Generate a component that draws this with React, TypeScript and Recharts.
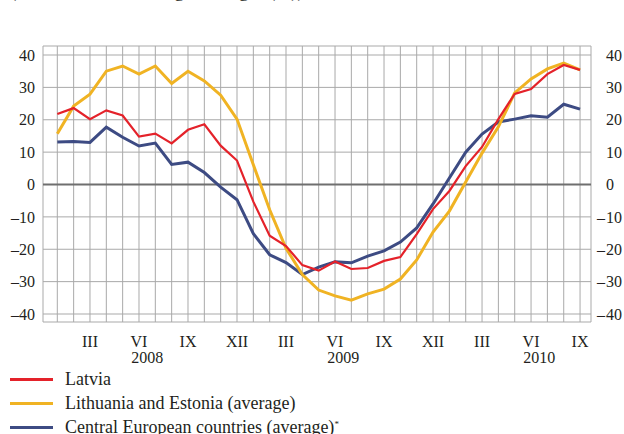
import { LineChart, Line, XAxis, YAxis, CartesianGrid, ReferenceLine } from "recharts";

const periods = [
  "I 2008", "II 2008", "III 2008", "IV 2008", "V 2008", "VI 2008",
  "VII 2008", "VIII 2008", "IX 2008", "X 2008", "XI 2008", "XII 2008",
  "I 2009", "II 2009", "III 2009", "IV 2009", "V 2009", "VI 2009",
  "VII 2009", "VIII 2009", "IX 2009", "X 2009", "XI 2009", "XII 2009",
  "I 2010", "II 2010", "III 2010", "IV 2010", "V 2010", "VI 2010",
  "VII 2010", "VIII 2010", "IX 2010",
];
const shownMonths = ["III", "VI", "IX", "XII"];
const years = ["2008", "2009", "2010"];
const yTicks = [-40, -30, -20, -10, 0, 10, 20, 30, 40];

const latvia = [
  21.8, 23.6, 20.2, 22.9, 21.3, 14.8, 15.7, 12.7, 16.9, 18.6, 12.0, 7.4,
  -5.3, -15.8, -19.0, -24.9, -26.6, -23.8, -26.1, -25.8, -23.6, -22.4, -15.3, -7.6,
  -2.0, 5.7, 11.6, 20.2, 28.0, 29.5, 34.1, 36.9, 35.4,
];
const lithEst = [
  15.7, 24.2, 27.9, 35.0, 36.6, 34.1, 36.6, 31.2, 35.0, 32.0, 27.6, 20.2,
  6.1, -7.8, -19.7, -27.8, -32.6, -34.4, -35.7, -33.8, -32.3, -29.2, -23.3, -14.7,
  -8.2, 0.8, 9.7, 17.8, 28.3, 32.6, 35.7, 37.5, 35.4,
];
const central = [
  13.1, 13.3, 13.0, 17.7, 14.6, 11.9, 12.8, 6.2, 6.9, 3.7, -0.8, -4.7,
  -15.2, -21.7, -24.1, -27.8, -25.5, -23.9, -24.2, -22.1, -20.5, -17.8, -13.4, -6.0,
  2.0, 10.0, 15.6, 19.3, 20.2, 21.2, 20.8, 24.8, 23.3,
];

const series = [
  { key: "latvia", name: "Latvia", color: "#e4222a", width: 2.2, axis: "left" },
  { key: "lithEst", name: "Lithuania and Estonia (average)", color: "#f0b323", width: 3, axis: "left" },
  { key: "central", name: "Central European countries (average)", color: "#3d4b83", width: 3, axis: "right" },
];

const data = periods.map((p, i) => ({
  idx: i,
  period: p,
  latvia: latvia[i],
  lithEst: lithEst[i],
  central: central[i],
}));

const monthTicks = periods.map((_, i) => i);
// year labels sit between June and July
const yearTicks = years.map((y) => periods.indexOf("VI " + y) + 0.5);

const FONT = "'Liberation Serif', 'Times New Roman', Times, serif";
const TEXT = "#231f20";
const Y_DOMAIN: [number, number] = [-42.47, 42.78];
const tickStyle = { fontSize: 16, fill: TEXT, fontFamily: FONT, style: { fontFamily: FONT } };

const fmtY = (v: number) => (v < 0 ? "\u2013" + Math.abs(v) : String(v));

function RightTick(props: any) {
  const { x, y, payload } = props;
  const v = payload.value as number;
  return (
    <g>
      {v < 0 && (
        <text x={x + 14} y={y} dy="0.355em" textAnchor="end" fontSize={16} fill={TEXT} style={{ fontFamily: FONT }}>
          {"\u2013"}
        </text>
      )}
      <text x={x + 15} y={y} dy="0.355em" textAnchor="start" fontSize={16} fill={TEXT} style={{ fontFamily: FONT }}>
        {Math.abs(v)}
      </text>
    </g>
  );
}

export default function App() {
  return (
    <div
      style={{
        position: "absolute",
        left: 0,
        top: 0,
        width: 624,
        height: 434,
        overflow: "hidden",
        background: "#fff",
        fontFamily: FONT,
        color: TEXT,
      }}
    >
      <div style={{ position: "absolute", left: 10, top: -19, fontSize: 19, lineHeight: 1, whiteSpace: "nowrap" }}>
        (annual nominal change in wages (%))
      </div>
      <LineChart
        width={624}
        height={434}
        data={data}
        margin={{ top: 46, right: 0, bottom: 62, left: 0 }}
        style={{ fontFamily: FONT }}
      >
        <XAxis
          dataKey="idx"
          type="number"
          domain={[-0.876, 32.67]}
          ticks={monthTicks}
          interval={0}
          height={20}
          axisLine={false}
          tickLine={false}
          tickSize={0}
          tickMargin={14}
          tick={tickStyle}
          tickFormatter={(v: number) => {
            const m = periods[v].split(" ")[0];
            return shownMonths.includes(m) ? m : "";
          }}
        />
        <XAxis
          xAxisId="year"
          dataKey="idx"
          type="number"
          domain={[-0.876, 32.67]}
          ticks={yearTicks}
          interval={0}
          height={30}
          axisLine={false}
          tickLine={false}
          tickSize={0}
          tickMargin={10}
          tick={tickStyle}
          tickFormatter={(v: number) => periods[Math.floor(v)].split(" ")[1]}
        />
        <YAxis
          yAxisId="left"
          domain={Y_DOMAIN}
          allowDataOverflow
          ticks={yTicks}
          interval={0}
          width={43}
          axisLine={false}
          tickLine={false}
          tickSize={0}
          tickMargin={8}
          tick={tickStyle}
          tickFormatter={fmtY}
        />
        <YAxis
          yAxisId="right"
          orientation="right"
          domain={Y_DOMAIN}
          allowDataOverflow
          ticks={yTicks}
          interval={0}
          width={33}
          axisLine={false}
          tickLine={false}
          tickSize={0}
          tickMargin={0}
          tick={(p: any) => <RightTick {...p} />}
        />
        <CartesianGrid yAxisId="left" stroke="#a9a9a9" strokeWidth={1} />
        <ReferenceLine yAxisId="left" y={0} stroke="#6f6f6f" strokeWidth={2} />
        {[...series].reverse().map((s) => (
          <Line
            key={s.key}
            yAxisId={s.axis}
            type="linear"
            dataKey={s.key}
            name={s.name}
            stroke={s.color}
            strokeWidth={s.width}
            dot={false}
            activeDot={false}
            isAnimationActive={false}
          />
        ))}
      </LineChart>
      <div style={{ position: "absolute", left: 0, top: 367, fontSize: 18 }}>
        {series.map((s, i) => (
          <div key={s.key} style={{ display: "flex", alignItems: "center", height: 24, whiteSpace: "nowrap" }}>
            <span
              style={{
                display: "inline-block",
                marginLeft: 10,
                width: 43,
                height: 3,
                background: s.color,
                marginRight: 12,
              }}
            />
            <span>
              {s.name}
              {i === 2 && <sup style={{ fontSize: 9, verticalAlign: "top", position: "relative", top: 2 }}>*</sup>}
            </span>
          </div>
        ))}
      </div>
    </div>
  );
}
